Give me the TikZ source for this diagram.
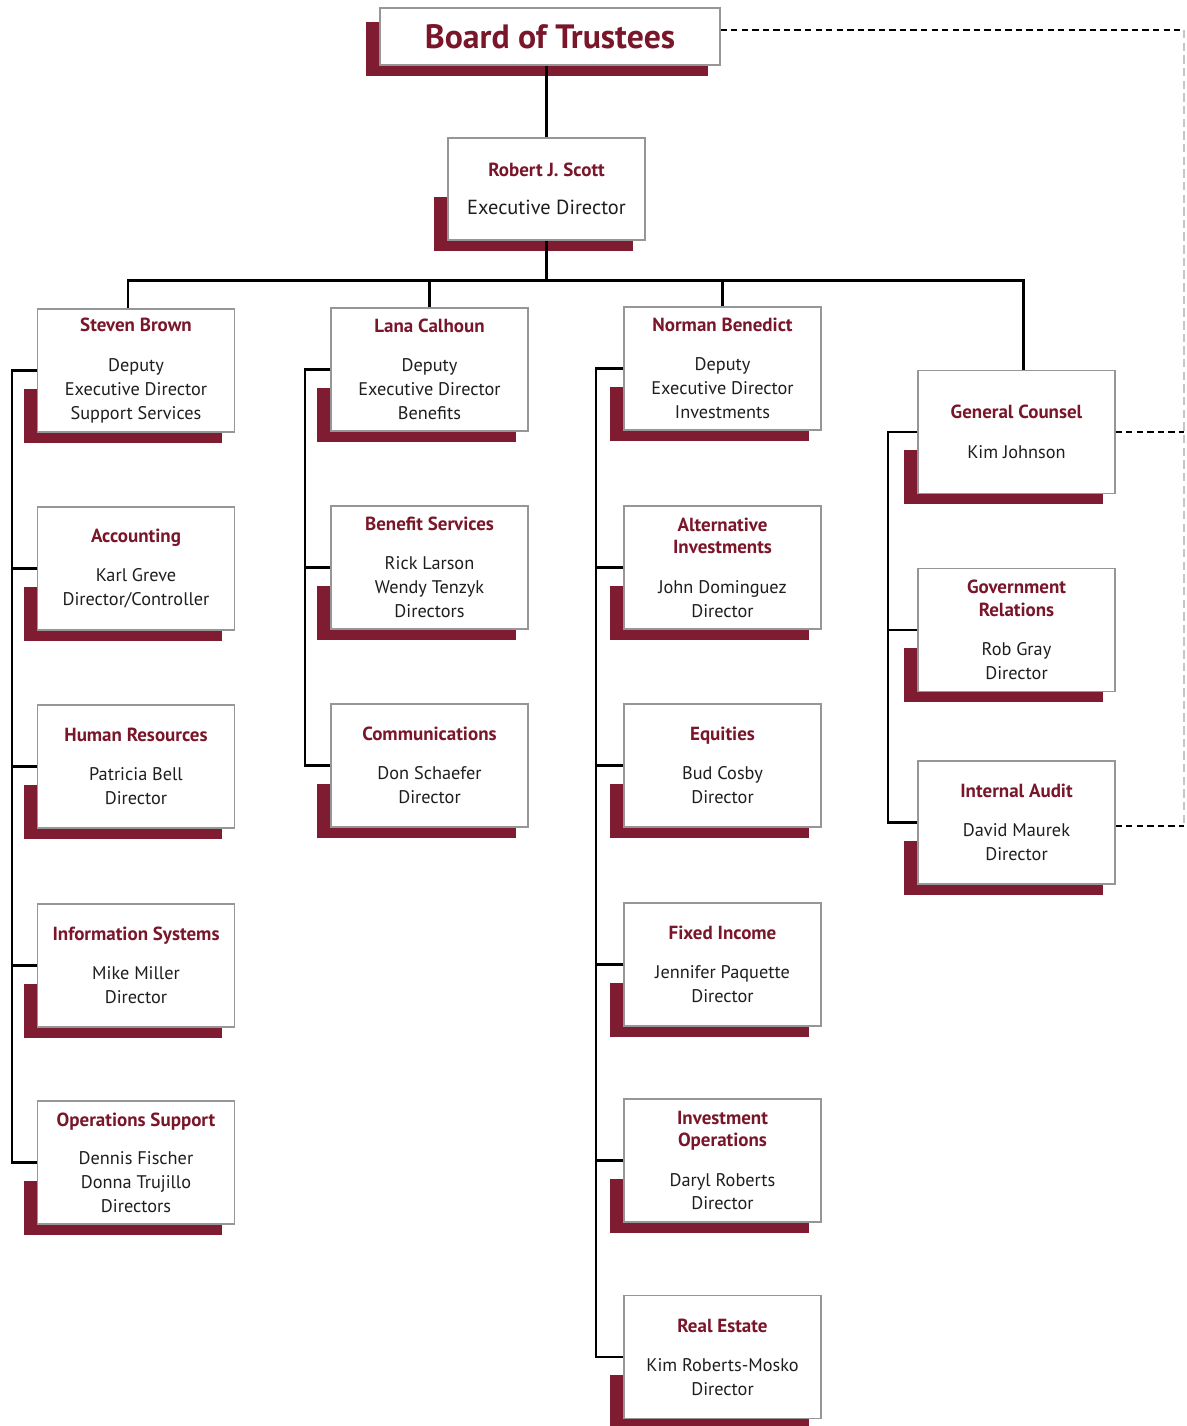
\documentclass[tikz,border=0pt]{standalone}
\usepackage{fontspec}
\setmainfont{PT Sans}
\usetikzlibrary{calc}
\usetikzlibrary{backgrounds}

\definecolor{maroon}{RGB}{128,28,50}
\definecolor{ttlred}{RGB}{122,22,42}
\definecolor{bodytxt}{RGB}{30,30,30}
\definecolor{frame}{RGB}{150,150,150}

\newcommand{\ttl}[1]{{\fontsize{13.5}{17}\selectfont\bfseries\color{ttlred}#1}}

\begin{document}
\begin{tikzpicture}[x=0.025cm, y=-0.025cm,
    unit/.style={draw=frame, line width=0.8pt, fill=white, align=center,
        text=bodytxt, font=\fontsize{13}{17}\selectfont,
        minimum width=4.925cm, minimum height=3.075cm, inner sep=0pt},
    link/.style={line width=1.6pt, black},
    dotlink/.style={line width=2pt, black, dash pattern=on 4.5pt off 3pt}]
    \useasboundingbox (0,0) rectangle (1186,1426);
    % top
    \node[unit, minimum width=8.5cm, minimum height=1.425cm,
        font=\fontsize{24}{28}\selectfont] (bot) at (550,36.5)
        {{\bfseries\color{ttlred}Board of Trustees}};
    \node[unit, minimum height=2.55cm, font=\fontsize{14.5}{19}\selectfont] (ed) at (546.5,189)
        {\ttl{Robert J. Scott}\\[8pt]Executive Director};
    % column 1
    \node[unit] (sb) at (136,370.5) {\ttl{Steven Brown}\\[11pt]Deputy\\Executive Director\\Support Services};
    \node[unit] (acc) at (136,568.5) {\ttl{Accounting}\\[11pt]Karl Greve\\Director/Controller};
    \node[unit] (hr) at (136,766.5) {\ttl{Human Resources}\\[11pt]Patricia Bell\\Director};
    \node[unit] (is) at (136,965.5) {\ttl{Information Systems}\\[11pt]Mike Miller\\Director};
    \node[unit] (ops) at (136,1162.5) {\ttl{Operations Support}\\[10pt]Dennis Fischer\\Donna Trujillo\\Directors};
    % column 2
    \node[unit] (lc) at (429.5,369.5) {\ttl{Lana Calhoun}\\[11pt]Deputy\\Executive Director\\Benefits};
    \node[unit] (bs) at (429.5,567.5) {\ttl{Benefit Services}\\[11pt]Rick Larson\\Wendy Tenzyk\\Directors};
    \node[unit] (com) at (429.5,765.5) {\ttl{Communications}\\[11pt]Don Schaefer\\Director};
    % column 3
    \node[unit] (nb) at (722.5,368.5) {\ttl{Norman Benedict}\\[11pt]Deputy\\Executive Director\\Investments};
    \node[unit] (ai) at (722.5,567.5) {\ttl{Alternative}\\[-1pt]\ttl{Investments}\\[11pt]John Dominguez\\Director};
    \node[unit] (eq) at (722.5,765.5) {\ttl{Equities}\\[11pt]Bud Cosby\\Director};
    \node[unit] (fi) at (722.5,964.5) {\ttl{Fixed Income}\\[11pt]Jennifer Paquette\\Director};
    \node[unit] (io) at (722.5,1160.5) {\ttl{Investment}\\[-1pt]\ttl{Operations}\\[11pt]Daryl Roberts\\Director};
    \node[unit] (re) at (722.5,1357) {\ttl{Real Estate}\\[11pt]Kim Roberts-Mosko\\Director};
    % column 4
    \node[unit] (gc) at (1016.5,432) {\ttl{General Counsel}\\[11pt]Kim Johnson};
    \node[unit] (gr) at (1016.5,630) {\ttl{Government}\\[-1pt]\ttl{Relations}\\[11pt]Rob Gray\\Director};
    \node[unit] (ia) at (1016.5,822.5) {\ttl{Internal Audit}\\[11pt]David Maurek\\Director};

    % shadows
    \begin{pgfonlayer}{background}
        \foreach \n in {bot,ed,sb,acc,hr,is,ops,lc,bs,com,nb,ai,eq,fi,io,re,gc,gr,ia}
            \fill[maroon] ($(\n.south west)+(-13,10)$) rectangle ($(\n.south east)+(-13,-44)$);
    \end{pgfonlayer}

    % reporting lines
    \draw[link] (bot.south -| ed.north) -- (ed.north);
    \draw[link] (ed.south) -- ++(0,40) coordinate (bus);
    \draw[link] ($(sb.north)+(-8,0)$) |- (bus) -| ($(gc.north)+(7,0)$);
    \draw[link] (lc.north) -- (lc.north |- bus);
    \draw[link] (nb.north) -- (nb.north |- bus);
    \coordinate (s1) at (12,0);
    \coordinate (s2) at (305,0);
    \coordinate (s3) at (596,0);
    \coordinate (s4) at (888,0);
    \draw[link] (sb.west) -- (sb.west -| s1) -- (ops.west -| s1) -- (ops.west);
    \foreach \n in {acc,hr,is}
        \draw[link] (\n.west) -- (\n.west -| s1);
    \draw[link] (lc.west) -- (lc.west -| s2) -- (com.west -| s2) -- (com.west);
    \draw[link] (bs.west) -- (bs.west -| s2);
    \draw[link] (nb.west) -- (nb.west -| s3) -- (re.west -| s3) -- (re.west);
    \foreach \n in {ai,eq,fi,io}
        \draw[link] (\n.west) -- (\n.west -| s3);
    \draw[link] (gc.west) -- (gc.west -| s4) -- (ia.west -| s4) -- (ia.west);
    \draw[link] (gr.west) -- (gr.west -| s4);

    % dotted lines
    \coordinate (rt) at (1184,30);
    \coordinate (rb) at (1184,826);
    \draw[dotlink] (bot.east |- rt) -- (rt);
    \draw[dotlink] (gc.east) -- (gc.east -| rt);
    \draw[dotlink] (ia.east |- rb) -- (rb);
    \draw[line width=0.8pt, gray!45, dash pattern=on 6pt off 3pt] (rt) -- (rb);
\end{tikzpicture}
\end{document}
